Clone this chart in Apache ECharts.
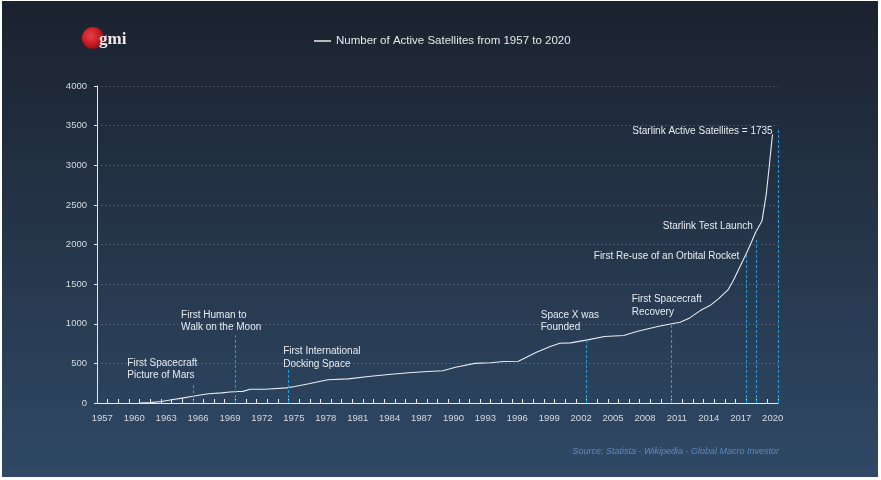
<!DOCTYPE html>
<html>
<head>
<meta charset="utf-8">
<script src="https://cdn.jsdelivr.net/npm/echarts@6/dist/echarts.min.js"></script>
<style>
  html, body { margin: 0; padding: 0; background: #ffffff; width: 881px; height: 480px; overflow: hidden; }
  #chart { position: absolute; left: 2px; top: 1px; width: 876px; height: 476px; }
</style>
</head>
<body>
<div id="chart"></div>
<script>
// Tick labels (category axis, one per year)
const yearLabels = ['1957','1958','1959','1960','1961','1962','1963','1964','1965','1966','1967','1968','1969','1970','1971','1972','1973','1974','1975','1976','1977','1978','1979','1980','1981','1982','1983','1984','1985','1986','1987','1988','1989','1990','1991','1992','1993','1994','1995','1996','1997','1998','1999','2000','2001','2002','2003','2004','2005','2006','2007','2008','2009','2010','2011','2012','2013','2014','2015','2016','2017','2018','2019','2020'];

// Series: number of active satellites
const satYears = [1960.5,1961.5,1962.6,1963.5,1964.5,1965.4,1966.2,1967.0,1968.2,1969.0,1969.8,1970.2,1970.9,1972.3,1974.3,1975.1,1976.4,1978.2,1980.1,1982.0,1983.9,1985.8,1987.6,1989.0,1990.2,1992.0,1993.5,1994.7,1996.1,1997.8,1999.1,2000.0,2001.0,2002.6,2004.2,2006.0,2007.3,2009.2,2010.5,2011.3,2012.2,2013.2,2014.1,2014.9,2015.8,2016.3,2016.9,2017.5,2018.0,2018.4,2019.0,2019.4,2019.7,2019.95,2020.0];
const satValues = [0,5,19,40,62,82,100,116,128,138,145,147,174,174,191,208,242,293,305,334,359,381,397,406,451,500,507,523,527,641,712,754,759,797,839,851,906,965,999,1019,1074,1166,1229,1314,1427,1545,1713,1881,2028,2154,2301,2638,3016,3352,3390];

// Event marker lines (x position in years, top value)
const eventX = [1965.5, 1969.5, 1974.5, 2002.5, 2010.5, 2017.5, 2018.5, 2020.5];
const eventTop = [250, 851, 435, 788, 1003, 1885, 2074, 3461];

// Annotation texts with anchor (year, value) and alignment
const noteTexts = ['First Spacecraft\nPicture of Mars','First Human to\nWalk on the Moon','First International\nDocking Space','Space X was\nFounded','First Spacecraft\nRecovery','First Re-use of an Orbital Rocket','Starlink Test Launch','Starlink Active Satellites = 1735'];
const noteX = [1959.35, 1964.4, 1974.0, 1998.2, 2006.75, 2016.87, 2018.13, 2020.0];
const noteY = [425, 1030, 574, 1034, 1230, 1847, 2230, 3428];
const noteAlign = ['left','left','left','left','left','right','right','right'];

const legendName = 'Number of Active Satellites from 1957 to 2020';

const chart = echarts.init(document.getElementById('chart'), null, { renderer: 'canvas' });

const lineData = satYears.map((y, i) => [y, satValues[i]]);
const markLines = eventX.map((x, i) => [{ coord: [x, 0] }, { coord: [x, eventTop[i]] }]);
const markPoints = noteTexts.map((t, i) => ({
  coord: [noteX[i], noteY[i]],
  label: { formatter: t, align: noteAlign[i] }
}));

const FONT = "'Liberation Sans', Arial, sans-serif";

chart.setOption({
  animation: false,
  backgroundColor: {
    type: 'linear', x: 0, y: 0, x2: 0, y2: 1,
    colorStops: [{ offset: 0, color: '#1b222e' }, { offset: 1, color: '#2f4966' }]
  },
  legend: {
    data: [{ name: legendName, icon: 'rect' }],
    left: 307, top: 29,
    itemWidth: 17, itemHeight: 1.5,
    textStyle: { color: '#e4e8ee', fontSize: 11.5, fontFamily: FONT }
  },
  grid: { left: 95, right: 100, top: 85, bottom: 74 },
  xAxis: [
    {
      type: 'category',
      data: yearLabels,
      boundaryGap: true,
      axisLine: { show: true, lineStyle: { color: '#e6e9ee', width: 1 } },
      axisTick: { show: true, inside: true, length: 4, interval: 0, lineStyle: { color: '#e6e9ee' } },
      axisLabel: { interval: 2, color: '#d4dae2', fontSize: 9.5, fontFamily: FONT, margin: 10 },
      splitLine: { show: false }
    },
    {
      type: 'value',
      min: 1956.5, max: 2020.5,
      show: false,
      splitLine: { show: false }
    }
  ],
  yAxis: {
    type: 'value',
    min: 0, max: 4000, interval: 500,
    axisLine: { show: true, lineStyle: { color: '#e6e9ee', width: 1 } },
    axisTick: { show: true, length: 3, lineStyle: { color: '#e6e9ee' } },
    axisLabel: { color: '#d4dae2', fontSize: 9.5, fontFamily: FONT, margin: 10, formatter: (v) => String(v) },
    splitLine: { show: true, lineStyle: { color: 'rgba(200,215,235,0.22)', type: [2, 2], width: 1 } }
  },
  series: [{
    name: legendName,
    type: 'line',
    xAxisIndex: 1,
    data: lineData,
    showSymbol: false,
    symbol: 'none',
    lineStyle: { color: '#e8ebef', width: 1.1 },
    itemStyle: { color: '#e8ebef' },
    markLine: {
      silent: true,
      symbol: ['none', 'none'],
      label: { show: false },
      lineStyle: { color: '#1f9bd8', type: [3, 2], width: 1.1 },
      data: markLines
    },
    markPoint: {
      silent: true,
      symbol: 'circle',
      symbolSize: 0,
      itemStyle: { color: 'transparent' },
      label: {
        show: true,
        position: 'inside',
        verticalAlign: 'middle',
        color: '#e8ecf1',
        fontSize: 10,
        lineHeight: 12.5,
        fontFamily: FONT
      },
      data: markPoints
    }
  }],
  graphic: [
    {
      type: 'circle',
      shape: { cx: 91, cy: 37, r: 11 },
      style: {
        fill: {
          type: 'radial', x: 0.4, y: 0.4, r: 0.7,
          colorStops: [{ offset: 0, color: '#e8404a' }, { offset: 0.65, color: '#c0161e' }, { offset: 1, color: '#6e0c12' }]
        }
      }
    },
    {
      type: 'text',
      left: 97, top: 30,
      style: { text: 'gmi', fill: '#f3e6e6', font: "bold 17px 'Liberation Serif', 'DejaVu Serif', serif" }
    },
    {
      type: 'text',
      right: 99, top: 446,
      style: { text: 'Source: Statista - Wikipedia - Global Macro Investor', fill: '#5f8ac0', font: "italic 9px 'Liberation Sans', Arial, sans-serif" }
    }
  ]
});
</script>
</body>
</html>
